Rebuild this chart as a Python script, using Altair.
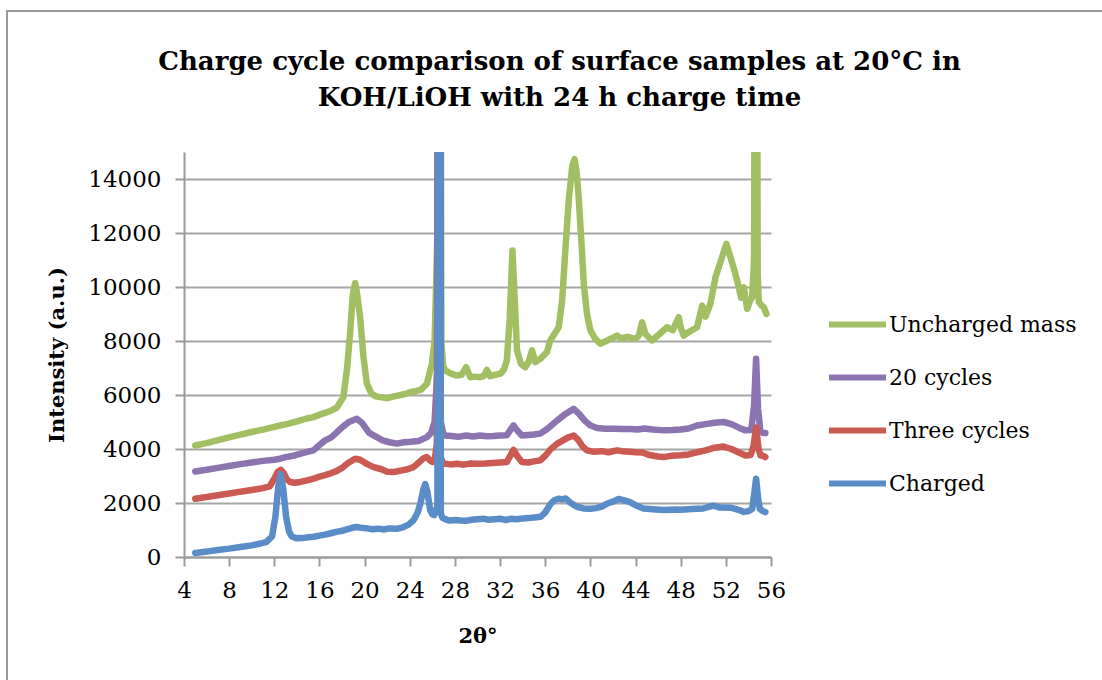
import altair as alt
import pandas as pd

# ---- data ----
series_order = ["Uncharged mass", "20 cycles", "Three cycles", "Charged"]
series_colors = ["#A2C063", "#8B74AF", "#CB5A53", "#5A8DC8"]

charged_x = [5.0, 6, 7, 8, 9, 10, 10.8, 11.3, 11.8, 12.1, 12.35, 12.57, 12.8, 13.04, 13.3, 13.55, 14.0, 14.5,
             15.0, 15.5, 16, 16.5, 17.0, 17.5, 18, 18.5, 19.0, 19.3, 19.7, 20.2, 20.7, 21.2, 21.7, 22.2, 22.9,
             23.4, 23.9, 24.33, 24.7, 24.95, 25.2, 25.37, 25.55, 25.8, 26.0, 26.16, 26.3, 26.45, 26.6, 26.75,
             26.9, 27.14, 27.5, 28, 28.5, 29, 29.5, 30, 30.5, 31, 31.5, 32, 32.5, 33, 33.5, 34, 34.5, 35, 35.6,
             36.0, 36.45, 36.8, 37.2, 37.5, 37.8, 38.2, 38.8, 39.4, 40.0, 40.5, 41, 41.5, 42.0, 42.5, 43.0, 43.5,
             44.0, 44.7, 45.5, 46.5, 47.5, 48.0, 49, 50, 50.9, 51.5, 52.5, 53.2, 53.6, 54.0, 54.33, 54.5, 54.68,
             54.85, 55.0, 55.2, 55.5]
charged_y = [150, 200, 260, 310, 370, 430, 500, 560, 760, 1500, 2600, 3080, 2500, 1500, 950, 760, 690, 700,
             730, 750, 790, 830, 880, 930, 970, 1030, 1090, 1110, 1080, 1060, 1030, 1050, 1020, 1060, 1050,
             1100, 1200, 1360, 1650, 2000, 2500, 2700, 2450, 1750, 1580, 1550, 1700, 1900, 60000, 1600,
             1450, 1400, 1350, 1370, 1350, 1340, 1380, 1400, 1420, 1380, 1400, 1420, 1370, 1420, 1400, 1430, 1440, 1460, 1490,
             1650, 1950, 2100, 2160, 2130, 2170, 2020, 1860, 1800, 1790, 1810, 1870, 1980, 2050, 2150, 2100, 2030,
             1920, 1800, 1770, 1740, 1760, 1750, 1780, 1800, 1900, 1830, 1820, 1740, 1670, 1700, 1780, 2300, 2900,
             2200, 1790, 1720, 1660]

three_x = [5.0, 6, 7, 8, 9, 10, 11, 11.6, 12.0, 12.3, 12.57, 12.85, 13.1, 13.4, 13.8, 14.3, 15.0, 15.5, 16.0, 16.5,
           17.0, 17.5, 18.0, 18.5, 19.16, 19.6, 20.2, 20.8, 21.5, 22.0, 22.6, 23.2, 23.8, 24.33, 24.8, 25.2, 25.5,
           25.8, 26.0, 26.2, 26.4, 26.6, 26.75, 26.9, 27.14, 27.6, 28.2, 28.8, 29.4, 30.0, 30.7, 31.3, 32.0, 32.6,
           32.9, 33.19, 33.5, 33.93, 34.5, 35.0, 35.56, 36.0, 36.5, 37.04, 37.5, 38.0, 38.52, 38.9, 39.3, 39.7,
           40.3, 41.0, 41.6, 42.36, 42.8, 43.5, 44.0, 44.6, 45.2, 46.0, 46.5, 47.2, 48.0, 48.7, 49.45, 50.2, 51.0,
           51.8, 52.5, 53.2, 53.74, 54.2, 54.45, 54.68, 54.9, 55.07, 55.3, 55.5]
three_y = [2160, 2220, 2290, 2350, 2420, 2480, 2550, 2620, 2900, 3150, 3230, 3100, 2880, 2780, 2750, 2780, 2850,
           2900, 2980, 3030, 3100, 3180, 3300, 3470, 3640, 3600, 3450, 3330, 3250, 3160, 3150, 3200, 3250, 3330,
           3500, 3650, 3700, 3580, 3520, 3560, 4200, 40000, 3700, 3500, 3450, 3430, 3450, 3420, 3460, 3450, 3460,
           3480, 3500, 3520, 3750, 3970, 3750, 3520, 3500, 3540, 3580, 3750, 4000, 4190, 4300, 4420, 4500, 4350,
           4100, 3950, 3900, 3920, 3880, 3950, 3920, 3900, 3880, 3870, 3780, 3720, 3700, 3750, 3770, 3800, 3880,
           3950, 4050, 4090, 4000, 3860, 3760, 3780, 4100, 4800, 4000, 3760, 3750, 3700]

c20_x = [5.0, 6, 7, 8, 9, 10, 11, 12, 12.5, 13.0, 13.8, 14.5, 15.46, 16.0, 16.5, 17.0, 17.39, 18.0, 18.6, 19.31,
         19.8, 20.4, 21.08, 21.6, 22.2, 22.86, 23.5, 24.1, 24.8, 25.52, 25.9, 26.2, 26.45, 26.6, 26.75, 26.95,
         27.14, 27.7, 28.3, 29.0, 29.6, 30.24, 30.8, 31.4, 32.0, 32.6, 32.9, 33.19, 33.5, 33.93, 34.5, 35.0, 35.56,
         36.2, 37.04, 37.8, 38.52, 39.0, 39.5, 40.0, 40.6, 41.3, 42.06, 42.8, 43.5, 44.2, 44.8, 45.5, 46.49, 47.3,
         48.0, 48.7, 49.45, 50.2, 51.0, 51.81, 52.5, 53.2, 53.74, 54.25, 54.5, 54.68, 54.85, 55.07, 55.3, 55.5]
c20_y = [3170, 3230, 3300, 3370, 3440, 3500, 3560, 3600, 3640, 3700, 3760, 3850, 3950, 4150, 4320, 4420, 4560,
         4800, 5000, 5120, 4950, 4600, 4440, 4320, 4250, 4200, 4250, 4270, 4300, 4440, 4600, 5000, 7000, 40000,
         5000, 4600, 4500, 4480, 4450, 4500, 4460, 4500, 4470, 4480, 4500, 4510, 4700, 4870, 4700, 4500, 4520,
         4540, 4570, 4750, 5050, 5300, 5490, 5300, 5050, 4870, 4780, 4750, 4750, 4740, 4740, 4720, 4760, 4720,
         4690, 4700, 4720, 4760, 4870, 4920, 4970, 5000, 4920, 4780, 4690, 4700, 5600, 7340, 5500, 4630, 4600, 4590]

unch_x = [5.0, 6, 7, 8, 9, 10, 11, 12.0, 12.51, 13.2, 14.0, 14.8, 15.46, 16.2, 16.94, 17.5, 18.12, 18.45, 18.71,
          18.95, 19.16, 19.35, 19.6, 19.9, 20.2, 20.6, 21.0, 21.38, 22.0, 22.6, 23.2, 23.7, 24.04, 24.6, 25.0,
          25.52, 25.75, 25.96, 26.2, 26.45, 26.6, 26.8, 26.95, 27.14, 27.6, 28.18, 28.6, 29.0, 29.36, 29.8, 30.24,
          30.55, 30.83, 31.1, 31.6, 32.04, 32.35, 32.6, 32.85, 33.1, 33.3, 33.5, 33.85, 34.23, 34.55, 34.83, 35.12,
          35.6, 36.15, 36.45, 36.8, 37.19, 37.5, 37.78, 38.1, 38.4, 38.6, 38.8, 38.98, 39.2, 39.42, 39.7, 40.0,
          40.4, 40.88, 41.4, 41.9, 42.36, 42.7, 43.3, 43.98, 44.3, 44.58, 44.87, 45.46, 46.1, 46.79, 47.3, 47.82,
          48.0, 48.27, 48.8, 49.45, 49.9, 50.2, 50.63, 51.08, 51.5, 52.05, 52.41, 52.7, 53.0, 53.35, 53.59, 53.89,
          54.1, 54.33, 54.5, 54.68, 54.82, 54.92, 55.2, 55.36, 55.6]
unch_y = [4130, 4220, 4330, 4430, 4530, 4630, 4720, 4820, 4870, 4930, 5020, 5120, 5180, 5300, 5400, 5520, 5920,
          7000, 8265, 9700, 10150, 9700, 8880, 7400, 6420, 6050, 5950, 5920, 5880, 5950, 6000, 6050, 6100, 6150,
          6200, 6420, 6800, 7160, 8000, 12000, 50000, 8000, 7100, 6910, 6800, 6720, 6750, 7030, 6660, 6680, 6660,
          6700, 6930, 6700, 6750, 6790, 6950, 7280, 8800, 11350, 9500, 7650, 7150, 7030, 7250, 7650, 7220, 7350,
          7590, 8020, 8250, 8510, 9500, 11350, 13300, 14500, 14740, 14200, 13200, 11700, 10100, 9000, 8390, 8100,
          7900, 8000, 8100, 8200, 8100, 8150, 8080, 8200, 8690, 8260, 8020, 8250, 8510, 8400, 8880, 8500, 8200,
          8350, 8510, 9310, 8900, 9380, 10360, 10900, 11600, 11100, 10700, 10240, 9600, 9990, 9190, 9450, 9620,
          11000, 40000, 10500, 9440, 9300, 9250, 9000]

x_ticks = [4, 8, 12, 16, 20, 24, 28, 32, 36, 40, 44, 48, 52, 56]
y_ticks = [0, 2000, 4000, 6000, 8000, 10000, 12000, 14000]

# ---- build table ----
frames = []
for name, xs, ys in [("Uncharged mass", unch_x, unch_y), ("20 cycles", c20_x, c20_y),
                     ("Three cycles", three_x, three_y), ("Charged", charged_x, charged_y)]:
    frames.append(pd.DataFrame({"series": name, "theta": xs, "intensity": ys, "idx": range(len(xs))}))
df = pd.concat(frames, ignore_index=True)

SERIF = "DejaVu Serif"
GRAY = "#9a9a9a"

color_scale = alt.Scale(domain=series_order, range=series_colors)
x_enc = alt.X("theta:Q", scale=alt.Scale(domain=[4, 56], nice=False, zero=False),
              axis=alt.Axis(values=x_ticks, title="2θ°", grid=False, labelFlush=False))
y_enc = alt.Y("intensity:Q", scale=alt.Scale(domain=[0, 15000], nice=False),
              axis=alt.Axis(values=y_ticks, title="Intensity (a.u.)", grid=True, format="d", labelFlush=False))

base = alt.Chart(df)
layers = []
for name in series_order:
    layers.append(
        base.transform_filter(alt.datum.series == name)
        .mark_line(clip=True, strokeWidth=6.5, strokeCap="round", strokeJoin="round")
        .encode(
            x=x_enc,
            y=y_enc,
            order="idx:Q",
            color=alt.Color("series:N", scale=color_scale, sort=series_order,
                            legend=alt.Legend(title=None, orient="none", legendX=642, legendY=141,
                                              symbolType="stroke", symbolSize=3249, symbolStrokeWidth=6,
                                              labelFont=SERIF, labelFontSize=22, labelColor="#000000",
                                              labelLimit=400, labelOffset=0, rowPadding=9, padding=0)),
        )
    )

frame = alt.Chart(pd.DataFrame({"k": [0]})).mark_rect(
    filled=False, stroke=GRAY, strokeWidth=2, clip=False
).encode(x=alt.value(-177), x2=alt.value(1000), y=alt.value(-141), y2=alt.value(700))

chart = alt.layer(frame, *layers).properties(
    width=587,
    height=405,
    padding={"left": 184, "top": 152, "right": 331, "bottom": 123},
    autosize=alt.AutoSizeParams(type="none"),
    background="white",
    title=alt.TitleParams(
        text=["Charge cycle comparison of surface samples at 20°C in", "KOH/LiOH with 24 h charge time"],
        font=SERIF, fontSize=26, fontWeight="bold", color="#000000", anchor="middle", frame="group",
        dx=82, offset=-101, lineHeight=36,
    ),
).configure_view(stroke=None).configure_axis(
    domainColor=GRAY, domainWidth=2, tickColor=GRAY, tickWidth=2, tickSize=9,
    gridColor="#a6a6a6", gridWidth=2,
    labelFont=SERIF, labelFontSize=23, labelColor="#000000",
    titleFont=SERIF, titleFontSize=21, titleFontWeight="bold", titleColor="#000000",
).configure_axisY(labelPadding=14, titlePadding=20).configure_axisX(labelPadding=13, titlePadding=23)

chart.save("out.html", embed_options={"renderer": "svg", "actions": False})
